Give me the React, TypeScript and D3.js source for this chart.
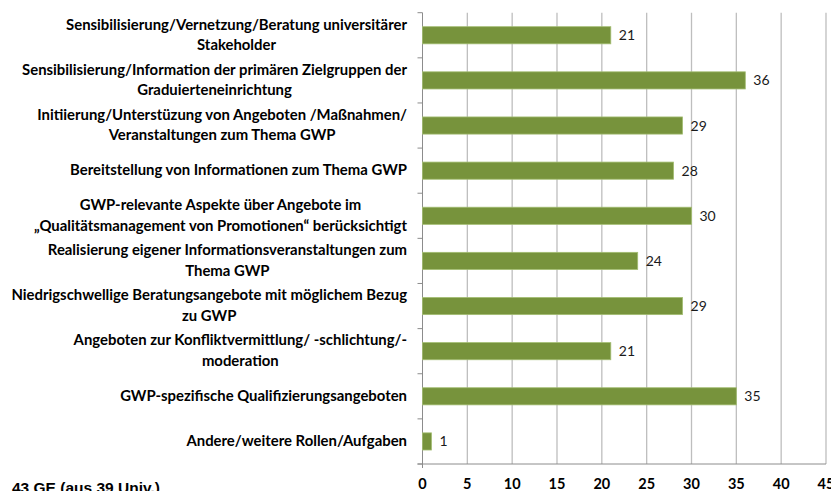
import React, { useEffect, useRef } from "react";
import * as d3 from "d3";

const categories: string[][] = [
  ["Sensibilisierung/Vernetzung/Beratung universitärer", "Stakeholder"],
  ["Sensibilisierung/Information der primären Zielgruppen der", "Graduierteneinrichtung"],
  ["Initiierung/Unterstüzung von Angeboten /Maßnahmen/", "Veranstaltungen zum Thema GWP"],
  ["Bereitstellung von Informationen zum Thema GWP"],
  ["GWP-relevante Aspekte über Angebote im", "\u201EQualitätsmanagement von Promotionen\u201C berücksichtigt"],
  ["Realisierung eigener Informationsveranstaltungen zum", "Thema GWP"],
  ["Niedrigschwellige Beratungsangebote mit möglichem Bezug", "zu GWP"],
  ["Angeboten zur Konfliktvermittlung/ -schlichtung/-", "moderation"],
  ["GWP-spezifische Qualifizierungsangeboten"],
  ["Andere/weitere Rollen/Aufgaben"],
];
const values: number[] = [21, 36, 29, 28, 30, 24, 29, 21, 35, 1];
const xTicks: number[] = [0, 5, 10, 15, 20, 25, 30, 35, 40, 45];
const footnote = "43 GE (aus 39 Univ.)";

const W = 831;
const H = 491;
const FONT = "Lato, 'Open Sans', sans-serif";

export default function App() {
  const ref = useRef<SVGSVGElement>(null);
  useEffect(() => {
    const svg = d3.select(ref.current);
    svg.selectAll("*").remove();
    const x = d3.scaleLinear().domain([0, 45]).range([422.5, 826]);
    const keys = categories.map((_, i) => String(i));
    const y = d3
      .scaleBand<string>()
      .domain(keys)
      .range([12.7, 464])
      .paddingInner(0.62)
      .paddingOuter(0.31);
    const step = y.step();
    const top = 12.7;
    const bottom = 464;

    // gridlines
    svg
      .append("g")
      .selectAll("line")
      .data(xTicks.filter((t) => t > 0))
      .join("line")
      .attr("x1", (d) => x(d))
      .attr("x2", (d) => x(d))
      .attr("y1", top)
      .attr("y2", bottom)
      .attr("stroke", "#BEBEBE")
      .attr("stroke-width", 1.3);

    // axes
    svg
      .append("line")
      .attr("x1", x(0))
      .attr("x2", x(0))
      .attr("y1", top)
      .attr("y2", bottom + 4)
      .attr("stroke", "#8C8C8C")
      .attr("stroke-width", 1);
    svg
      .append("line")
      .attr("x1", x(0) - 5)
      .attr("x2", x(45))
      .attr("y1", bottom)
      .attr("y2", bottom)
      .attr("stroke", "#8C8C8C")
      .attr("stroke-width", 1);
    svg
      .append("g")
      .selectAll("line")
      .data(d3.range(categories.length + 1))
      .join("line")
      .attr("x1", x(0) - 5)
      .attr("x2", x(0))
      .attr("y1", (i) => top + i * step)
      .attr("y2", (i) => top + i * step)
      .attr("stroke", "#8C8C8C")
      .attr("stroke-width", 1);

    // bars
    svg
      .append("g")
      .selectAll("rect")
      .data(values)
      .join("rect")
      .attr("x", x(0))
      .attr("y", (_, i) => y(String(i))!)
      .attr("width", (d) => x(d) - x(0))
      .attr("height", y.bandwidth())
      .attr("fill", "#77933C")
      .attr("stroke", "#A3BD72")
      .attr("stroke-width", 0.8);

    // value labels
    svg
      .append("g")
      .selectAll("text")
      .data(values)
      .join("text")
      .attr("x", (d) => x(d) + 8)
      .attr("y", (_, i) => y(String(i))! + y.bandwidth() / 2 + 5)
      .attr("font-family", FONT)
      .attr("font-size", 14)
      .attr("fill", "#1a1a1a")
      .text((d) => String(d));

    // category labels
    const rightEdge = 407;
    const lineGap = 20.5;
    const targetWidest = 396;
    const groups: { texts: d3.Selection<SVGTextElement, unknown, null, undefined>[] }[] = [];
    categories.forEach((lines, i) => {
      const cy = y(String(i))! + y.bandwidth() / 2;
      const g = svg.append("g");
      const texts = lines.map((ln, j) =>
        g
          .append("text")
          .attr("font-family", FONT)
          .attr("font-weight", "bold")
          .attr("font-size", 13)
          .attr("fill", "#000")
          .attr("text-anchor", "middle")
          .attr("y", cy + 4.5 + (j - (lines.length - 1) / 2) * lineGap)
          .text(ln)
      );
      groups.push({ texts: texts as any });
    });
    let widest = 0;
    groups.forEach((g) =>
      g.texts.forEach((t) => {
        widest = Math.max(widest, (t.node() as SVGTextElement).getComputedTextLength());
      })
    );
    const fs = widest > 0 ? (13 * targetWidest) / widest : 13;
    groups.forEach((g) => {
      g.texts.forEach((t) => t.attr("font-size", fs));
      const widths = g.texts.map((t) => (t.node() as SVGTextElement).getComputedTextLength());
      const maxW = Math.max(...widths);
      const center = rightEdge - maxW / 2;
      g.texts.forEach((t) => t.attr("x", center));
    });

    // x tick labels
    svg
      .append("g")
      .selectAll("text")
      .data(xTicks)
      .join("text")
      .attr("x", (d) => x(d))
      .attr("y", 489)
      .attr("text-anchor", "middle")
      .attr("font-family", FONT)
      .attr("font-weight", "bold")
      .attr("font-size", 14.5)
      .attr("fill", "#000")
      .text((d) => String(d));

    // footnote
    svg
      .append("text")
      .attr("x", 12)
      .attr("y", 493)
      .attr("font-family", "'Liberation Sans', Arial, sans-serif")
      .attr("font-weight", "bold")
      .attr("font-size", 15.5)
      .attr("fill", "#000")
      .text(footnote);
  }, []);

  return (
    <svg
      ref={ref}
      width={W}
      height={H}
      style={{ position: "absolute", left: 0, top: 0, background: "#fff" }}
    />
  );
}
